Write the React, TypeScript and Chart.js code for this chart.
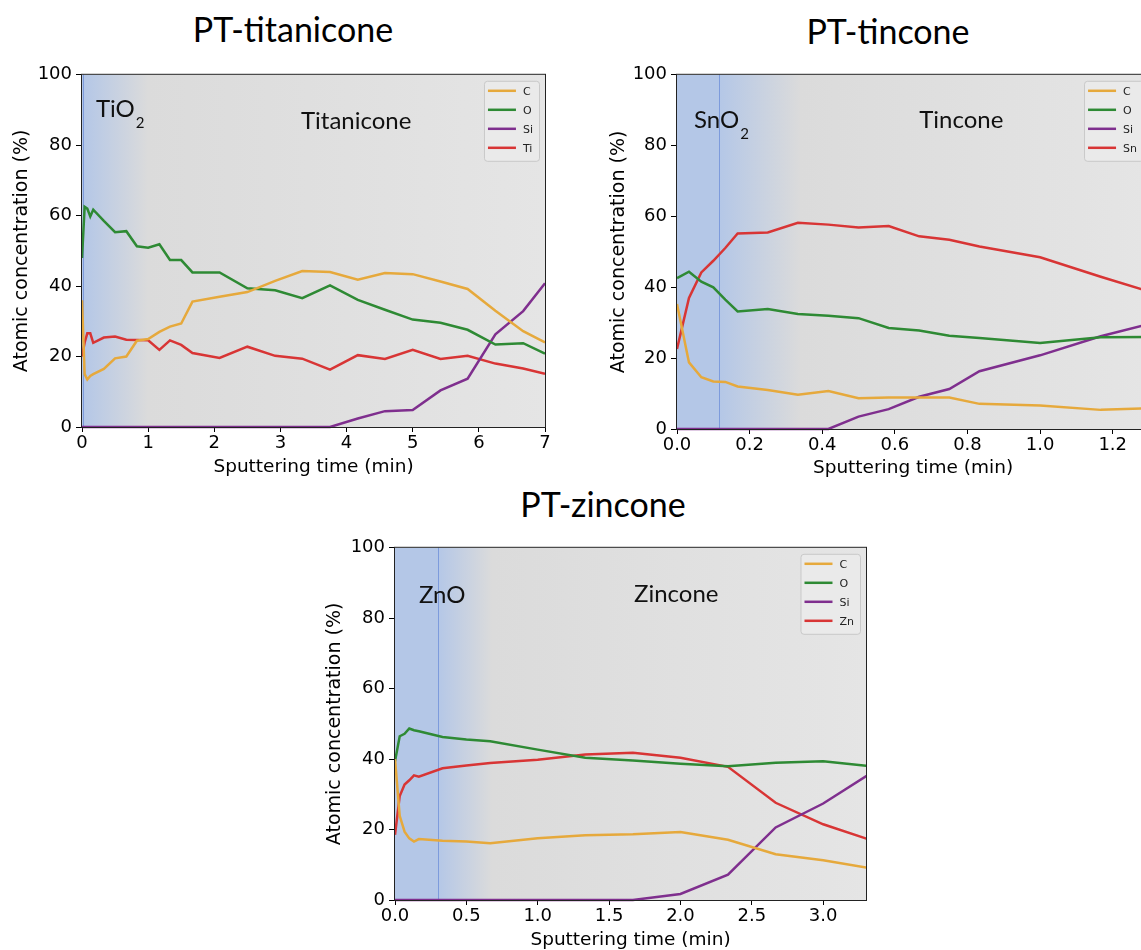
import React, { useEffect, useRef } from "react";
import { Chart, registerables } from "chart.js";

Chart.register(...registerables);

// ---------- data ----------
const yTicks = [0, 20, 40, 60, 80, 100];
const yTickLabels = ["0", "20", "40", "60", "80", "100"];

// PT-titanicone
const titanTimes = [0, 0.04, 0.08, 0.125, 0.17, 0.33, 0.5, 0.67, 0.83, 1.0, 1.17, 1.33, 1.5, 1.67, 2.08, 2.5, 2.92, 3.33, 3.75, 4.17, 4.58, 5.0, 5.42, 5.83, 6.25, 6.67, 7.0];
const titanC = [36, 15, 13.5, 14.5, 15, 16.5, 19.5, 20, 24.5, 25, 27, 28.5, 29.4, 35.6, 37, 38.3, 41.5, 44.3, 44, 41.8, 43.7, 43.4, 41.3, 39.2, 33, 27.2, 24];
const titanO = [48, 62.5, 62, 59.8, 61.7, 58.5, 55.3, 55.6, 51.3, 50.9, 51.9, 47.4, 47.4, 43.9, 43.9, 39.4, 38.8, 36.6, 40.2, 36.1, 33.3, 30.5, 29.6, 27.6, 23.4, 23.8, 20.8];
const titanSi = [0, 0, 0, 0, 0, 0, 0, 0, 0, 0, 0, 0, 0, 0, 0, 0, 0, 0, 0, 2.4, 4.5, 4.8, 10.4, 13.7, 26.3, 32.9, 40.8];
const titanTi = [20, 24, 26.6, 26.6, 23.9, 25.4, 25.7, 24.8, 24.7, 24.6, 21.9, 24.6, 23.3, 21, 19.6, 22.8, 20.2, 19.4, 16.3, 20.4, 19.3, 21.9, 19.3, 20.2, 18, 16.6, 15.1];
const titanXTicks = [0, 1, 2, 3, 4, 5, 6, 7];
const titanXTickLabels = ["0", "1", "2", "3", "4", "5", "6", "7"];

// PT-tincone
const tinTimes = [0, 0.033, 0.067, 0.1, 0.133, 0.167, 0.25, 0.333, 0.417, 0.5, 0.583, 0.667, 0.75, 0.833, 1.0, 1.167, 1.333];
const tinC = [35.3, 18.8, 14.6, 13.4, 13.3, 12, 11, 9.7, 10.7, 8.7, 8.9, 8.9, 8.9, 7.1, 6.6, 5.4, 6];
const tinO = [42.6, 44.4, 41.6, 40, 36.5, 33.2, 33.9, 32.5, 32, 31.3, 28.5, 27.8, 26.3, 25.7, 24.3, 25.9, 26];
const tinSi = [0, 0, 0, 0, 0, 0, 0, 0, 0, 3.5, 5.6, 9.1, 11.3, 16.3, 20.8, 26.2, 30.5];
const tinSn = [22.6, 37, 44.2, 47.5, 51.1, 55.2, 55.5, 58.2, 57.7, 56.9, 57.3, 54.4, 53.4, 51.5, 48.5, 43, 37.8];
const tinXTicks = [0, 0.2, 0.4, 0.6, 0.8, 1.0, 1.2];
const tinXTickLabels = ["0.0", "0.2", "0.4", "0.6", "0.8", "1.0", "1.2"];

// PT-zincone
const zincTimes = [0, 0.033, 0.067, 0.1, 0.133, 0.167, 0.333, 0.5, 0.667, 1.0, 1.333, 1.667, 2.0, 2.333, 2.667, 3.0, 3.333];
const zincC = [40, 23.9, 19.4, 17.5, 16.6, 17.3, 16.8, 16.6, 16.1, 17.5, 18.4, 18.7, 19.3, 17.1, 13, 11.3, 9];
const zincO = [39.4, 46.5, 47.2, 48.7, 48.2, 47.9, 46.3, 45.6, 45.1, 42.7, 40.4, 39.6, 38.7, 38, 39, 39.4, 38];
const zincSi = [0, 0, 0, 0, 0, 0, 0, 0, 0, 0, 0, 0, 1.7, 7.2, 20.6, 27.4, 36];
const zincZn = [18.5, 29.5, 32.8, 34, 35.4, 35, 37.4, 38.2, 38.9, 39.8, 41.3, 41.8, 40.4, 37.8, 27.6, 21.5, 17];
const zincXTicks = [0, 0.5, 1.0, 1.5, 2.0, 2.5, 3.0];
const zincXTickLabels = ["0.0", "0.5", "1.0", "1.5", "2.0", "2.5", "3.0"];

// ---------- styles ----------
const COL_C = "#e6a93c";
const COL_O = "#2e8a34";
const COL_SI = "#7f2f8e";
const COL_M = "#d83535";
const BLUE = "#b4c7e7";
const GRAY1 = "#dbdbdb";
const GRAY2 = "#e5e5e5";
const TICK_FONT = { family: "'DejaVu Sans'", size: 18 };
const TITLE_FONT_Y = { family: "'DejaVu Sans'", size: 19 };
const TITLE_FONT_X = { family: "'DejaVu Sans'", size: 18.5 };

type Label = { text: string; sub?: string; x: number; y: number };
type Panel = {
  left: number; top: number; width: number; height: number;
  padRight: number; xAxisH: number; yTitlePad: number; xTitlePad: number;
  xMax: number; xTicks: number[]; xTickLabels: string[];
  times: number[]; c: number[]; o: number[]; si: number[]; metal: number[]; metalName: string;
  oxideEnd: number; fadeEnd: number; labels: Label[];
};

const panels: Panel[] = [
  {
    left: 0, top: 60, width: 560, height: 420, padRight: 15, xAxisH: 53, yTitlePad: 11, xTitlePad: 2,
    xMax: 7, xTicks: titanXTicks, xTickLabels: titanXTickLabels,
    times: titanTimes, c: titanC, o: titanO, si: titanSi, metal: titanTi, metalName: "Ti",
    oxideEnd: 0.02, fadeEnd: 1.0,
    labels: [
      { text: "TiO", sub: "2", x: 0.21, y: 88.1 },
      { text: "Titanicone", x: 3.31, y: 84.7 },
    ],
  },
  {
    left: 595, top: 60, width: 570, height: 422, padRight: 16, xAxisH: 53, yTitlePad: 13, xTitlePad: 3,
    xMax: 1.3, xTicks: tinXTicks, xTickLabels: tinXTickLabels,
    times: tinTimes, c: tinC, o: tinO, si: tinSi, metal: tinSn, metalName: "Sn",
    oxideEnd: 0.116, fadeEnd: 0.34,
    labels: [
      { text: "SnO", sub: "2", x: 0.047, y: 85.1 },
      { text: "Tincone", x: 0.667, y: 85.1 },
    ],
  },
  {
    left: 313, top: 533, width: 570, height: 420, padRight: 17, xAxisH: 53, yTitlePad: 11, xTitlePad: 2,
    xMax: 3.3, xTicks: zincXTicks, xTickLabels: zincXTickLabels,
    times: zincTimes, c: zincC, o: zincO, si: zincSi, metal: zincZn, metalName: "Zn",
    oxideEnd: 0.3, fadeEnd: 0.68,
    labels: [
      { text: "ZnO", x: 0.168, y: 84.4 },
      { text: "Zincone", x: 1.675, y: 84.7 },
    ],
  },
];

const titles = [
  { text: "PT-titanicone", cx: 293, cy: 30 },
  { text: "PT-tincone", cx: 888, cy: 32 },
  { text: "PT-zincone", cx: 603, cy: 505 },
];

const panelPlugin = {
  id: "panel",
  beforeDatasetsDraw(chart: any, _args: any, opts: any) {
    const { ctx, chartArea: a, scales } = chart;
    const w = a.right - a.left;
    const pSolid = scales.x.getPixelForValue(opts.oxideEnd);
    const pFade = scales.x.getPixelForValue(opts.fadeEnd);
    const g = ctx.createLinearGradient(a.left, 0, a.right, 0);
    g.addColorStop(0, BLUE);
    g.addColorStop(Math.max(0, (pSolid - a.left) / w), BLUE);
    g.addColorStop(Math.min(1, (pFade - a.left) / w), GRAY1);
    g.addColorStop(1, GRAY2);
    ctx.save();
    ctx.fillStyle = g;
    ctx.fillRect(a.left, a.top, w, a.bottom - a.top);
    ctx.strokeStyle = "#7d9bdc";
    ctx.lineWidth = 1;
    ctx.beginPath();
    const px = Math.round(pSolid) + 0.5;
    ctx.moveTo(px, a.top);
    ctx.lineTo(px, a.bottom);
    ctx.stroke();
    ctx.restore();
  },
  afterDatasetsDraw(chart: any, _args: any, opts: any) {
    const { ctx, chartArea: a, scales } = chart;
    ctx.save();
    // annotations
    ctx.fillStyle = "#111";
    ctx.textBaseline = "alphabetic";
    ctx.textAlign = "left";
    for (const l of opts.labels as Label[]) {
      const x = scales.x.getPixelForValue(l.x);
      const y = scales.y.getPixelForValue(l.y);
      ctx.font = "24px Lato";
      ctx.fillText(l.text, x, y);
      if (l.sub) {
        const tw = ctx.measureText(l.text).width;
        ctx.font = "15px Lato";
        ctx.fillText(l.sub, x + tw + 1, y + 11);
      }
    }
    // frame
    ctx.strokeStyle = "#222";
    ctx.lineWidth = 1;
    ctx.strokeRect(a.left - 0.5, a.top - 0.5, a.right - a.left + 1, a.bottom - a.top + 1);
    // legend
    const items = chart.data.datasets.map((d: any) => ({ label: d.label, color: d.borderColor }));
    ctx.font = "11px 'DejaVu Sans'";
    const tw = Math.max(...items.map((i: any) => ctx.measureText(i.label).width));
    const boxW = 4 + 28 + 7 + tw + 6;
    const rowH = 19;
    const boxH = 10 + rowH * (items.length - 1) + 13;
    const bx = a.right - 6 - boxW;
    const by = a.top + 6;
    ctx.beginPath();
    ctx.roundRect(bx + 0.5, by + 0.5, boxW, boxH, 3);
    ctx.fillStyle = "rgba(234,234,234,0.9)";
    ctx.fill();
    ctx.strokeStyle = "#c9c9c9";
    ctx.stroke();
    items.forEach((it: any, i: number) => {
      const cy = by + 10 + i * rowH;
      ctx.strokeStyle = it.color;
      ctx.lineWidth = 2.5;
      ctx.beginPath();
      ctx.moveTo(bx + 4, cy);
      ctx.lineTo(bx + 32, cy);
      ctx.stroke();
      ctx.fillStyle = "#222";
      ctx.textBaseline = "middle";
      ctx.fillText(it.label, bx + 39, cy + 1);
    });
    ctx.restore();
  },
};

function ChartPanel({ p }: { p: Panel }) {
  const ref = useRef<HTMLCanvasElement | null>(null);
  useEffect(() => {
    if (!ref.current) return;
    const mk = (label: string, arr: number[], color: string) => ({
      label,
      data: p.times.map((t, i) => ({ x: t, y: arr[i] })),
      borderColor: color,
      backgroundColor: color,
      borderWidth: 2.5,
      pointRadius: 0,
      tension: 0,
      fill: false,
      clip: { left: 0, top: 0, right: 0, bottom: 3 },
    });
    const chart = new Chart(ref.current, {
      type: "line",
      data: {
        datasets: [
          mk("C", p.c, COL_C),
          mk("O", p.o, COL_O),
          mk("Si", p.si, COL_SI),
          mk(p.metalName, p.metal, COL_M),
        ],
      },
      options: {
        responsive: false,
        animation: false,
        layout: { padding: { left: 0, top: 14, right: p.padRight, bottom: 0 } },
        plugins: {
          legend: { display: false },
          tooltip: { enabled: false },
          panel: { oxideEnd: p.oxideEnd, fadeEnd: p.fadeEnd, labels: p.labels },
        } as any,
        scales: {
          x: {
            type: "linear",
            min: 0,
            max: p.xMax,
            afterBuildTicks: (s: any) => {
              s.ticks = p.xTicks.map((v) => ({ value: v }));
            },
            afterFit: (s: any) => {
              s.height = p.xAxisH;
            },
            ticks: {
              callback: (_v: any, i: number) => p.xTickLabels[i],
              font: TICK_FONT,
              color: "#000",
              padding: 1,
              maxRotation: 0,
              autoSkip: false,
            },
            grid: { display: true, drawOnChartArea: false, drawTicks: true, tickLength: 5, tickColor: "#000" },
            border: { display: false },
            title: {
              display: true,
              text: "Sputtering time (min)",
              font: TITLE_FONT_X,
              color: "#000",
              padding: { top: 0, bottom: p.xTitlePad },
            },
          },
          y: {
            type: "linear",
            min: 0,
            max: 100,
            afterBuildTicks: (s: any) => {
              s.ticks = yTicks.map((v) => ({ value: v }));
            },
            afterFit: (s: any) => {
              s.width = 82;
            },
            ticks: {
              callback: (_v: any, i: number) => yTickLabels[i],
              font: TICK_FONT,
              color: "#000",
              padding: 4,
              autoSkip: false,
            },
            grid: { display: true, drawOnChartArea: false, drawTicks: true, tickLength: 6, tickColor: "#000" },
            border: { display: false },
            title: {
              display: true,
              text: "Atomic concentration (%)",
              font: TITLE_FONT_Y,
              color: "#000",
              padding: { top: p.yTitlePad, bottom: 0 },
            },
          },
        },
      } as any,
      plugins: [panelPlugin as any],
    });
    return () => chart.destroy();
  }, [p]);
  return (
    <canvas
      ref={ref}
      width={p.width}
      height={p.height}
      style={{ position: "absolute", left: p.left, top: p.top, width: p.width, height: p.height }}
    />
  );
}

export default function App() {
  return (
    <div
      style={{
        position: "absolute",
        left: 0,
        top: 0,
        width: 1141,
        height: 950,
        overflow: "hidden",
        background: "#fff",
      }}
    >
      {panels.map((p, i) => (
        <ChartPanel key={i} p={p} />
      ))}
      {titles.map((t, i) => (
        <div
          key={"t" + i}
          style={{
            position: "absolute",
            left: t.cx - 200,
            width: 400,
            top: t.cy - 21,
            textAlign: "center",
            fontFamily: "Lato",
            fontSize: 34,
            lineHeight: 1.2,
            color: "#000",
            whiteSpace: "nowrap",
          }}
        >
          {t.text}
        </div>
      ))}
    </div>
  );
}
